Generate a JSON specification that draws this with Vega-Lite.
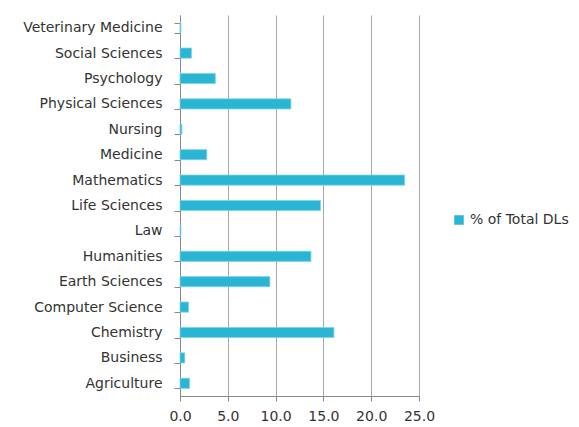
{
  "$schema": "https://vega.github.io/schema/vega-lite/v6.json",
  "width": 239,
  "height": 381,
  "padding": {"left": 22, "top": 8, "right": 0, "bottom": 0},
  "background": "white",
  "config": {
    "view": {"stroke": null},
    "font": "DejaVu Sans"
  },
  "data": {
    "values": [
      {"field": "Veterinary Medicine", "pct": 0.1},
      {"field": "Social Sciences", "pct": 1.2},
      {"field": "Psychology", "pct": 3.7},
      {"field": "Physical Sciences", "pct": 11.6},
      {"field": "Nursing", "pct": 0.2},
      {"field": "Medicine", "pct": 2.8},
      {"field": "Mathematics", "pct": 23.5},
      {"field": "Life Sciences", "pct": 14.7},
      {"field": "Law", "pct": 0.1},
      {"field": "Humanities", "pct": 13.7},
      {"field": "Earth Sciences", "pct": 9.4},
      {"field": "Computer Science", "pct": 0.9},
      {"field": "Chemistry", "pct": 16.1},
      {"field": "Business", "pct": 0.5},
      {"field": "Agriculture", "pct": 1.0}
    ]
  },
  "mark": {"type": "bar", "stroke": "#7fd3e8", "strokeWidth": 0.8},
  "encoding": {
    "y": {
      "field": "field",
      "type": "nominal",
      "sort": null,
      "scale": {"paddingInner": 0.6, "paddingOuter": 0.3},
      "axis": {
        "title": null,
        "tickBand": "extent",
        "grid": false,
        "domainColor": "#888888",
        "tickColor": "#888888",
        "tickSize": 6,
        "labelFontSize": 14,
        "labelColor": "#333333",
        "labelPadding": 12
      }
    },
    "x": {
      "field": "pct",
      "type": "quantitative",
      "scale": {"domain": [0, 25], "nice": false},
      "axis": {
        "title": null,
        "values": [0, 5, 10, 15, 20, 25],
        "format": ".1f",
        "labelFlush": false,
        "labelOverlap": false,
        "grid": true,
        "gridColor": "#a8a8a8",
        "gridWidth": 1,
        "domainColor": "#888888",
        "tickColor": "#888888",
        "tickSize": 5,
        "labelFontSize": 14,
        "labelColor": "#333333",
        "labelPadding": 8
      }
    },
    "color": {
      "datum": "% of Total DLs",
      "type": "nominal",
      "scale": {"range": ["#2bb5d5"]},
      "legend": {
        "title": null,
        "orient": "none",
        "legendX": 272,
        "legendY": 198,
        "symbolType": "square",
        "symbolSize": 90,
        "symbolStrokeWidth": 0,
        "labelFontSize": 14,
        "labelColor": "#333333"
      }
    }
  }
}
